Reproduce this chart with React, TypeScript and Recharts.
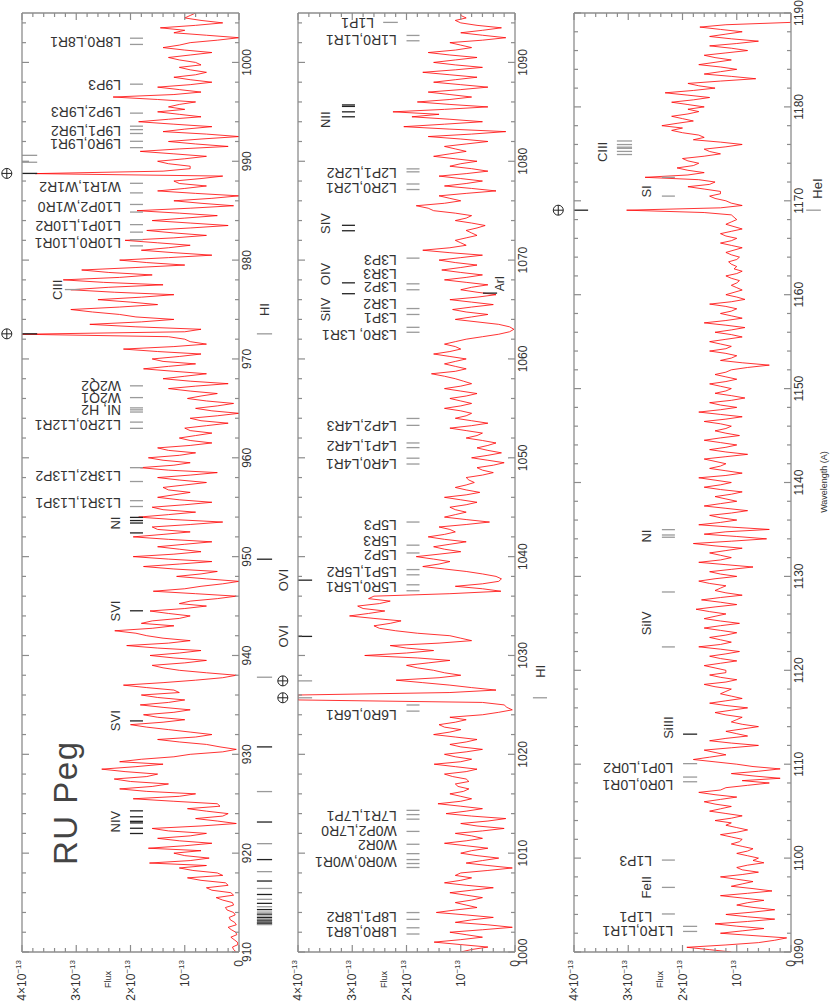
import React from "react";
import { LineChart, Line, XAxis, YAxis, ReferenceLine, ReferenceDot } from "recharts";

// FUSE spectrum of RU Peg, flux in units of 1e-13, sampled every 0.25 A
const STEP = 0.25;

const p1Start = 910;
const p1Flux = [
  0.05, 0.1, 0.12, 0.02, 0.03, 0.09, 0.15, 0.04, 0.06, 0.14, 0.2, 0.05, 0.08, 0.16, 0.18, 0.07, 0.1, 0.22, 0.25, 0.1,
  0.12, 0.3, 0.42, 0.1, 0.15, 0.5, 0.6, 0.2, 0.25, 0.7, 0.95, 0.3, 0.4, 0.85, 1.1, 0.6, 1.65, 0.9, 0.55, 1.0,
  1.2, 0.7, 1.67, 1.0, 0.5, 1.1, 1.5, 0.9, 0.6, 1.3, 1.6, 0.7, 0.05, 0.4, 0.8, 0.3, 0.2, 0.6, 0.95, 0.35,
  0.4, 1.2, 1.95, 1.1, 0.8, 1.7, 2.2, 1.6, 1.3, 2.0, 2.3, 1.7, 1.5, 2.1, 2.53, 1.9, 1.4, 2.2, 1.8, 1.2,
  0.9, 0.3, 0.05, 0.35, 0.6, 1.1, 1.5, 0.8, 0.5, 0.9, 1.3, 1.7, 2.0, 1.4, 1.0, 1.5, 1.76, 1.2, 0.9, 1.4,
  1.82, 1.3, 1.0, 1.5, 1.8, 1.1, 1.2, 1.7, 2.13, 1.4, 0.8, 0.3, 0.05, 0.6, 1.1, 1.4, 1.6, 1.0, 0.6, 1.2,
  1.64, 1.1, 0.7, 1.5, 2.07, 1.3, 0.9, 1.4, 1.7, 1.9, 2.29, 1.6, 1.2, 1.8, 1.6, 1.1, 0.9, 1.3, 1.64, 1.0,
  0.6, 1.1, 0.9, 0.4, 0.05, 0.8, 1.58, 1.0, 0.7, 0.3, 0.0, 0.6, 1.15, 0.7, 0.4, 1.2, 1.76, 1.1, 0.5, 1.3,
  1.95, 1.2, 0.7, 1.1, 1.5, 1.0, 0.5, 1.3, 1.95, 1.4, 0.9, 1.5, 1.6, 0.9, 0.3, 1.2, 1.85, 1.3, 0.8, 1.4,
  1.6, 1.0, 0.5, 1.1, 1.5, 1.2, 0.9, 1.3, 1.4, 1.0, 0.6, 1.1, 1.5, 0.9, 0.4, 1.3, 1.82, 1.2, 0.9, 1.4,
  1.67, 1.1, 0.8, 1.3, 1.5, 0.9, 0.5, 0.9, 1.1, 0.8, 0.5, 0.9, 1.0, 0.6, 0.2, 0.7, 0.9, 0.4, 0.0, 0.5,
  0.8, 0.4, 0.1, 0.6, 0.95, 0.7, 0.4, 0.9, 1.3, 0.8, 0.2, 0.9, 1.4, 1.0, 0.6, 1.2, 1.76, 1.3, 0.8, 1.4,
  1.6, 1.1, 0.7, 1.5, 2.13, 1.2, 0.6, 0.9, 1.0, 1.3, 4.0, 1.0, 0.7, 1.9, 2.75, 1.8, 1.2, 1.9, 2.2, 2.7,
  3.1, 2.2, 1.5, 2.0, 2.6, 1.8, 1.2, 2.3, 3.1, 2.4, 1.4, 2.5, 3.24, 2.2, 1.6, 2.4, 2.9, 1.9, 1.0, 1.7,
  2.2, 1.3, 0.5, 1.2, 1.8, 1.3, 0.9, 1.5, 2.1, 1.2, 0.6, 1.2, 1.7, 0.9, 0.2, 0.9, 1.6, 1.0, 0.4, 1.1,
  1.88, 0.9, 0.1, 0.7, 1.2, 0.5, 0.0, 0.8, 1.5, 1.0, 0.6, 1.1, 1.2, 0.7, 0.3, 3.76, 1.4, 0.9, 0.9, 1.3,
  1.5, 1.0, 0.6, 1.2, 1.82, 1.1, 0.2, 0.8, 1.3, 0.7, 0.0, 0.6, 1.4, 1.0, 0.5, 1.2, 1.85, 1.3, 0.7, 1.1,
  1.5, 1.0, 1.3, 1.1, 0.8, 1.5, 2.32, 1.2, 0.7, 1.1, 1.5, 0.9, 0.5, 0.9, 1.2, 0.8, 0.6, 0.9, 1.1, 0.7,
  0.8, 1.1, 1.3, 0.9, 0.5, 1.0, 1.4, 1.1, 0.9, 0.4, 0.0, 0.6, 1.2, 1.0, 1.45, 0.8, 0.3, 0.7, 1.0, 0.9, 0.8,
];

const p2Start = 1000;
const p2Flux = [
  1.0, 0.8, 0.5, 1.0, 1.49, 1.0, 0.6, 0.9, 1.2, 0.6, 0.05, 0.5, 1.1, 0.8, 0.4, 0.9, 1.45, 1.1, 0.7, 0.9,
  1.1, 0.8, 0.6, 0.9, 1.2, 0.8, 0.4, 0.9, 1.3, 1.0, 0.8, 1.1, 1.0, 0.5, 0.05, 0.5, 0.9, 0.6, 0.3, 0.7,
  1.0, 0.8, 0.5, 0.9, 1.3, 0.9, 0.6, 0.8, 1.1, 0.6, 0.2, 0.7, 1.0, 0.5, 0.17, 0.8, 1.27, 0.9, 0.6, 1.0,
  1.42, 1.0, 0.8, 1.0, 1.2, 0.95, 0.85, 1.05, 1.1, 0.85, 0.9, 1.15, 1.3, 0.9, 0.7, 1.1, 1.49, 1.0, 0.8, 1.1,
  1.3, 0.9, 0.6, 1.0, 1.2, 0.9, 0.7, 1.1, 1.5, 1.2, 1.0, 1.3, 1.4, 1.1, 0.9, 1.2, 0.6, 0.3, 0.05, 0.15,
  0.2, 0.6, 4.0, 4.0, 4.0, 1.2, 0.35, 0.8, 1.2, 1.7, 2.19, 1.4, 1.0, 1.3, 1.5, 1.8, 2.0, 1.6, 1.2, 1.8,
  2.77, 2.0, 1.5, 2.0, 2.3, 1.4, 0.8, 1.0, 1.2, 1.8, 2.2, 2.5, 2.6, 2.3, 2.1, 2.6, 3.05, 2.7, 2.4, 2.8,
  2.9, 2.5, 2.3, 2.7, 2.6, 1.2, 0.26, 0.6, 1.1, 0.6, 0.3, 0.25, 0.35, 0.6, 0.9, 1.3, 1.7, 1.4, 1.2, 1.5,
  1.82, 1.4, 1.0, 1.3, 1.5, 1.2, 0.9, 1.3, 1.6, 1.3, 1.1, 1.2, 1.4, 0.9, 0.47, 0.9, 1.3, 1.1, 0.9, 1.1,
  1.2, 0.9, 0.7, 1.0, 1.3, 0.9, 0.65, 0.9, 1.1, 0.9, 0.75, 0.85, 0.9, 0.6, 0.4, 0.6, 0.7, 0.4, 0.2, 0.5,
  0.8, 0.5, 0.25, 0.5, 0.7, 0.5, 0.35, 0.6, 0.9, 0.7, 0.6, 0.9, 1.2, 0.8, 0.5, 0.8, 1.1, 0.9, 0.8, 1.0,
  1.3, 1.0, 0.8, 1.0, 1.2, 0.9, 0.7, 1.0, 1.3, 1.0, 0.8, 0.95, 1.1, 1.3, 1.54, 1.1, 0.9, 1.1, 1.3, 1.1,
  0.9, 1.2, 1.5, 1.2, 1.0, 1.1, 1.3, 1.1, 0.9, 0.6, 0.3, 0.1, 0.02, 0.1, 0.3, 0.7, 1.1, 0.8, 0.5, 0.9,
  1.15, 0.8, 0.4, 0.8, 1.2, 0.7, 0.35, 0.7, 1.0, 0.8, 0.5, 0.9, 1.3, 0.9, 0.6, 1.0, 1.35, 1.0, 0.7, 1.1,
  1.4, 1.0, 0.6, 1.2, 1.7, 1.2, 0.9, 1.0, 1.1, 0.9, 0.7, 0.8, 0.9, 0.7, 0.55, 0.8, 1.1, 0.9, 0.8, 1.1,
  1.5, 1.6, 1.82, 1.3, 1.0, 1.2, 1.4, 0.9, 0.35, 0.8, 1.3, 0.9, 0.6, 1.0, 1.4, 0.9, 0.5, 0.8, 1.2, 1.0,
  0.7, 1.1, 1.5, 1.2, 0.9, 1.1, 1.3, 0.9, 0.5, 1.0, 1.6, 0.8, 0.17, 1.2, 2.05, 1.3, 0.6, 1.2, 1.9, 1.4,
  2.25, 1.3, 0.5, 1.2, 1.8, 1.2, 0.8, 1.2, 1.6, 1.0, 0.5, 1.0, 1.5, 1.1, 0.7, 1.2, 1.7, 1.1, 0.6, 1.1,
  1.5, 1.1, 0.7, 1.2, 1.6, 1.1, 0.8, 1.0, 1.2, 0.6, 0.17, 0.6, 1.0, 0.6, 0.25, 0.7, 1.0, 1.1, 0.9, 1.0, 1.0,
];

const p3Start = 1090;
const p3Flux = [
  1.1, 1.5, 1.92, 1.2, 0.6, 0.3, 0.08, 0.7, 1.3, 0.9, 0.5, 1.0, 1.4, 0.8, 0.3, 0.8, 1.2, 0.7, 0.3, 0.7,
  1.0, 0.8, 0.5, 0.9, 1.3, 0.8, 0.35, 0.7, 1.1, 0.9, 0.7, 1.0, 1.3, 0.9, 0.6, 0.9, 1.0, 0.8, 0.5, 0.7,
  0.6, 0.8, 1.0, 0.8, 0.7, 0.9, 1.1, 0.95, 0.9, 1.1, 1.3, 1.0, 0.8, 1.0, 1.2, 1.1, 1.4, 1.1, 0.9, 1.2,
  1.5, 1.3, 1.1, 1.4, 1.6, 1.3, 1.0, 1.4, 1.7, 1.3, 1.2, 0.8, 0.4, 0.9, 0.2, 0.7, 1.1, 0.6, 0.2, 0.7,
  1.0, 1.4, 1.8, 1.5, 1.2, 1.4, 1.6, 1.1, 0.6, 1.1, 1.5, 1.2, 0.8, 1.0, 1.2, 0.9, 0.6, 0.9, 1.1, 1.0,
  0.9, 1.2, 1.4, 1.1, 0.8, 1.2, 1.5, 1.2, 0.9, 1.1, 1.3, 1.2, 1.1, 1.4, 1.6, 1.2, 1.0, 1.3, 1.5, 1.2,
  1.2, 1.4, 1.6, 1.3, 1.0, 1.3, 1.5, 1.2, 0.95, 1.3, 1.7, 1.3, 1.1, 1.3, 1.5, 1.2, 1.0, 1.3, 1.6, 1.3,
  0.95, 1.3, 1.6, 1.4, 1.2, 1.5, 1.75, 1.4, 1.0, 1.3, 1.65, 1.3, 0.9, 1.2, 1.4, 1.3, 1.2, 1.5, 1.7, 1.4,
  1.0, 1.3, 1.5, 1.1, 0.7, 1.2, 1.7, 1.3, 1.1, 1.3, 1.5, 1.2, 0.9, 1.4, 1.8, 1.1, 0.45, 1.0, 1.6, 1.2,
  0.4, 1.1, 1.7, 1.3, 1.0, 1.3, 1.5, 1.1, 0.8, 1.2, 1.6, 1.3, 1.0, 1.2, 1.4, 1.1, 0.9, 1.3, 1.6, 1.3,
  1.1, 1.4, 1.7, 1.2, 0.9, 1.2, 1.5, 1.3, 1.2, 1.4, 1.6, 1.2, 0.8, 1.2, 1.5, 1.2, 1.0, 1.3, 1.6, 1.3,
  0.95, 1.2, 1.4, 1.2, 1.1, 1.3, 1.6, 1.2, 0.9, 1.3, 1.7, 1.3, 1.0, 1.3, 1.5, 1.1, 0.85, 1.1, 1.4, 1.2,
  1.1, 1.3, 1.5, 1.2, 1.0, 1.2, 1.4, 1.2, 1.1, 0.8, 0.4, 0.9, 1.3, 1.1, 1.0, 1.2, 1.5, 1.2, 1.1, 1.3,
  1.5, 1.2, 0.9, 1.1, 1.4, 1.1, 0.85, 1.2, 1.6, 1.2, 0.9, 1.1, 1.3, 1.1, 1.0, 1.2, 1.5, 1.1, 0.85, 1.0,
  1.2, 1.05, 0.9, 1.0, 1.1, 1.0, 0.95, 1.1, 1.2, 1.0, 0.9, 1.05, 1.0, 1.1, 1.15, 1.0, 0.95, 1.1, 1.2, 1.05,
  0.9, 1.1, 1.3, 1.1, 1.0, 1.2, 1.3, 1.1, 0.9, 1.05, 1.2, 1.1, 1.0, 1.05, 1.1, 1.6, 3.03, 1.3, 0.9, 1.1,
  1.2, 1.4, 1.5, 1.3, 1.3, 1.6, 1.9, 1.5, 1.4, 1.7, 2.69, 1.9, 1.6, 1.9, 2.1, 1.8, 1.7, 1.9, 2.0, 1.6,
  1.3, 1.5, 1.6, 1.2, 0.9, 1.3, 1.8, 1.6, 1.7, 2.0, 2.2, 2.0, 2.38, 2.1, 1.8, 2.0, 2.2, 1.9, 1.7, 1.9,
  1.6, 1.9, 2.2, 1.8, 1.5, 1.9, 2.32, 1.8, 1.4, 1.7, 1.9, 1.3, 0.65, 1.1, 1.6, 1.3, 1.0, 1.3, 1.7, 1.4,
  1.1, 1.4, 1.6, 1.2, 0.8, 1.1, 1.5, 1.0, 0.6, 1.1, 1.5, 1.2, 0.9, 1.3, 1.68, 1.2, 0.0, 0.0, 0.0, 0.0, 0.0,
];

// line identifications: [label, label wavelength, tick wavelengths]
type Mark = [string, number, number[]];

const p1H2: Mark[] = [
  ["L8R0,L8R1", 1002.1, [1001.82, 1002.45]],
  ["L9P3", 997.7, [997.8]],
  ["L9P2,L9R3", 995.0, [994.87]],
  ["L9P1,L9R2", 993.1, [992.81, 993.2, 993.55]],
  ["L9R0,L9R1", 991.7, [991.38, 992.02]],
  ["W1R1,W1R2", 987.4, [986.8, 987.77]],
  ["L10P2,W1R0", 985.4, [984.86, 985.63]],
  ["L10P1,L10R2", 983.5, [982.83, 983.59]],
  ["L10R0,L10R1", 981.7, [981.44, 982.07]],
  ["W2Q2", 967.3, [967.28]],
  ["W2Q1", 966.1, [966.09]],
  ["NI, H2", 964.85, [964.63, 964.85, 965.05]],
  ["L12R0,L12R1", 963.3, [962.98, 963.61]],
  ["L13R2,L13P2", 958.2, [957.6, 959.0]],
  ["L13R1,L13P1", 955.4, [955.07, 955.66]],
];
const p1Ions: Mark[] = [
  ["NIV", 923.2, [921.99, 922.52, 923.06, 923.22, 923.68, 924.28]],
  ["SVI", 933.4, [933.38]],
  ["SVI", 944.5, [944.52]],
  ["NI", 953.4, [952.4, 953.4, 953.65, 953.97]],
];
const p1High: Mark[] = [["CIII", 977.0, [977.02]]];
const p1Airglow = [972.54, 988.77];
const p1AirGray = [989.9, 990.6];
const lyman = [
  972.54, 949.74, 937.8, 930.75, 926.23, 923.15, 920.96, 919.35, 918.13, 917.18,
  916.43, 915.82, 915.33, 914.92, 914.58, 914.29, 914.04, 913.83, 913.64, 913.48,
  913.34, 913.21, 913.1, 913.0, 912.92, 912.84, 912.77,
];

const p2H2: Mark[] = [
  ["L8R0,L8R1", 1002.0, [1001.82, 1002.45]],
  ["L8P1,L8R2", 1003.5, [1003.3, 1003.99]],
  ["W0R0,W0R1", 1009.1, [1008.55, 1008.95, 1009.35, 1009.95]],
  ["W0R2", 1010.8, [1010.9]],
  ["W0P2,L7R0", 1012.2, [1012.2]],
  ["L7R1,L7P1", 1013.8, [1013.44, 1013.9, 1014.33]],
  ["L6R0,L6R1", 1024.0, [1024.37, 1024.99]],
  ["L5R0,L5R1", 1036.9, [1036.55, 1037.15]],
  ["L5P1,L5R2", 1038.4, [1038.16, 1038.69]],
  ["L5P2", 1040.2, [1040.37]],
  ["L5R3", 1041.6, [1041.16]],
  ["L5P3", 1043.2, [1043.5]],
  ["L4R0,L4R1", 1049.4, [1049.37, 1049.96]],
  ["L4P1,L4R2", 1051.2, [1051.03, 1051.5]],
  ["L4P2,L4R3", 1053.2, [1053.28, 1053.98]],
  ["L3R0, L3R1", 1062.4, [1062.7, 1063.2]],
  ["L3P1", 1064.1, [1064.5]],
  ["L3R2", 1065.6, [1065.1]],
  ["L3P2", 1067.3, [1067.0]],
  ["L3R3", 1068.6, [1067.6]],
  ["L3P3", 1070.0, [1070.2]],
  ["L2R0,L2R1", 1077.3, [1077.14, 1077.7]],
  ["L2P1,L2R2", 1078.8, [1078.93, 1079.23]],
  ["L1R0,L1R1", 1092.3, [1092.19, 1092.73]],
];
const p2Mid: Mark[] = [["L1P1", 1094.0, [1094.05]]];
const p2Ions: Mark[] = [
  ["SiIV", 1065.0, [1066.6]],
  ["OIV", 1068.6, [1067.7]],
  ["SIV", 1073.7, [1072.97, 1073.52]],
  ["NII", 1084.2, [1084.5, 1085.0, 1085.55, 1085.7]],
];
const p2Airglow = [1025.72, 1027.43];
const p2Ovi = [1031.93, 1037.62];
const p2ArI = 1066.66;
const p2Lyb = 1025.72;

const p3Low: Mark[] = [
  ["L1R0,L1R1", 1092.2, [1092.19, 1092.73]],
  ["L0R0,L0R1", 1107.8, [1108.13, 1108.63]],
  ["L0P1,L0R2", 1109.6, [1110.06]],
];
const p3Mid: Mark[] = [
  ["L1P1", 1093.7, [1094.05]],
  ["L1P3", 1099.7, [1099.79]],
];
const p3Ions: Mark[] = [
  ["FeII", 1096.9, [1096.88]],
  ["SiIV", 1125.0, [1122.49, 1128.34]],
  ["NI", 1134.3, [1134.17, 1134.41, 1134.98]],
  ["SI", 1171.0, [1170.5, 1172.5]],
];
const p3SiIII: Mark[] = [["SiIII", 1113.9, [1113.2]]];
const p3High: Mark[] = [["CIII", 1175.2, [1174.93, 1175.26, 1175.59, 1175.71, 1175.99, 1176.37]]];
const p3Airglow = [1169.0];
const p3HeI = 1169.0;

const yTicks = [0, 0.2, 0.4, 0.6, 0.8, 1, 1.2, 1.4, 1.6, 1.8, 2, 2.2, 2.4, 2.6, 2.8, 3, 3.2, 3.4, 3.6, 3.8, 4];

const FONT = "'Liberation Sans', Arial, sans-serif";
const INK = "#333";
const FRAME = "#8c8c8c";
const GRAY = "#9a9a9a";
const DARK = "#222";
const RED = "#ff0000";

const everyTwo = (a: number, b: number) =>
  Array.from({ length: Math.floor((b - a) / 2) + 1 }, (_, i) => a + 2 * i);

const isMajorY = (v: number) => Math.abs(v - Math.round(v)) < 1e-6;

const BottomTick = (p: any) => {
  const { x, y, payload } = p;
  const major = payload.value % 10 === 0;
  return (
    <g>
      <line x1={x} y1={y} x2={x} y2={y - (major ? 7 : 4)} stroke={FRAME} strokeWidth={1.2} />
      {major && (
        <text x={x} y={y + 12} textAnchor="middle" fontSize={12} fill={INK} fontFamily={FONT}>
          {payload.value}
        </text>
      )}
    </g>
  );
};

const TopTick = (p: any) => {
  const { x, y, payload } = p;
  const major = payload.value % 10 === 0;
  return <line x1={x} y1={y} x2={x} y2={y + (major ? 7 : 4)} stroke={FRAME} strokeWidth={1.2} />;
};

const LeftTick = (p: any) => {
  const { x, y, payload } = p;
  const v = Math.round(payload.value * 10) / 10;
  const major = isMajorY(v);
  return (
    <g>
      <line x1={x} y1={y} x2={x + (major ? 7 : 4)} y2={y} stroke={FRAME} strokeWidth={1.2} />
      {major && (
        <text x={x - 8} y={y + 4} textAnchor="end" fontSize={12} fill={INK} fontFamily={FONT}>
          {v === 0 ? "0" : (
            <>
              {v === 1 ? "" : `${v}×`}10
              <tspan dy={-5} fontSize={8}>−13</tspan>
            </>
          )}
        </text>
      )}
    </g>
  );
};

const RightTick = (p: any) => {
  const { x, y, payload } = p;
  const major = isMajorY(payload.value);
  return <line x1={x} y1={y} x2={x - (major ? 7 : 4)} y2={y} stroke={FRAME} strokeWidth={1.2} />;
};

const ticksAt = (key: string, ws: number[], lo: number, hi: number, color: string) =>
  ws.map((w, i) => (
    <ReferenceLine
      key={`${key}-${i}`}
      segment={[{ x: w, y: lo }, { x: w, y: hi }]}
      stroke={color}
      strokeWidth={1.3}
      ifOverflow="visible"
    />
  ));

const vText = (key: string, text: string, w: number, y: number) => (
  <ReferenceDot
    key={key}
    x={w}
    y={y}
    ifOverflow="visible"
    shape={(p: any) => (
      <text
        x={p.cx}
        y={p.cy}
        transform={`rotate(-90 ${p.cx} ${p.cy})`}
        dominantBaseline="central"
        fontSize={14}
        fill={INK}
        fontFamily={FONT}
      >
        {text}
      </text>
    )}
  />
);

const hText = (key: string, text: string, w: number, y: number, size = 13, anchor = "middle") => (
  <ReferenceDot
    key={key}
    x={w}
    y={y}
    ifOverflow="visible"
    shape={(p: any) => (
      <text x={p.cx} y={p.cy} textAnchor={anchor} fontSize={size} fill={INK} fontFamily={FONT}>
        {text}
      </text>
    )}
  />
);

const earth = (key: string, w: number, y: number) => (
  <ReferenceDot
    key={key}
    x={w}
    y={y}
    ifOverflow="visible"
    shape={(p: any) => (
      <g stroke={DARK} strokeWidth={1} fill="none">
        <circle cx={p.cx} cy={p.cy} r={5} />
        <line x1={p.cx - 5} y1={p.cy} x2={p.cx + 5} y2={p.cy} />
        <line x1={p.cx} y1={p.cy - 5} x2={p.cx} y2={p.cy + 5} />
      </g>
    )}
  />
);

const marks = (key: string, list: Mark[], lo: number, hi: number, labelY: number, vertical: boolean, color: string) =>
  list.flatMap(([t, at, ws], i) => [
    ...ticksAt(`${key}t${i}`, ws, lo, hi, color),
    vertical ? vText(`${key}l${i}`, t, at, labelY) : hText(`${key}l${i}`, t, at, labelY),
  ]);

function Panel({ top, start, flux, x0, x1, children }: any) {
  const rows = flux.map((f: number, i: number) => ({ w: start + i * STEP, f }));
  const xt = everyTwo(x0, x1);
  const axisLine = { stroke: FRAME, strokeWidth: 1.3 };
  return (
    <div style={{ position: "absolute", left: 0, top: top - 22 }}>
      <LineChart width={1001} height={279} data={rows} margin={{ top: 0, right: 0, bottom: 0, left: 0 }}>
        <XAxis dataKey="w" type="number" domain={[x0, x1]} ticks={xt} interval={0} allowDataOverflow
          height={40} tickSize={0} tickMargin={0} tickLine={false} axisLine={axisLine} tick={BottomTick} />
        <XAxis xAxisId="t" orientation="top" dataKey="w" type="number" domain={[x0, x1]} ticks={xt} interval={0}
          allowDataOverflow height={22} tickSize={0} tickMargin={0} tickLine={false} axisLine={axisLine} tick={TopTick} />
        <YAxis type="number" domain={[0, 4]} ticks={yTicks} interval={0} allowDataOverflow width={49}
          tickSize={0} tickMargin={0} tickLine={false} axisLine={axisLine} tick={LeftTick} />
        <YAxis yAxisId="r" orientation="right" type="number" domain={[0, 4]} ticks={yTicks} interval={0}
          allowDataOverflow width={13} tickSize={0} tickMargin={0} tickLine={false} axisLine={axisLine} tick={RightTick} />
        <Line dataKey="f" type="linear" stroke={RED} strokeWidth={0.8} dot={false} isAnimationActive={false} />
        {children}
      </LineChart>
    </div>
  );
}

export default function App() {
  return (
    <div style={{ position: "fixed", left: 0, top: 0, width: 830, height: 1001, overflow: "hidden", background: "#fff" }}>
      <div
        style={{
          position: "absolute",
          left: 0,
          top: 0,
          width: 1001,
          height: 830,
          transformOrigin: "0 0",
          transform: "translate(0px, 1001px) rotate(-90deg)",
          fontFamily: FONT,
        }}
      >
        <Panel top={22} start={p1Start} flux={p1Flux} x0={910} x1={1005}>
          {[
            ...marks("a", p1H2, 1.77, 2.01, 2.175, true, GRAY),
            ...marks("b", p1Ions, 1.77, 2.01, 2.19, false, DARK),
            ...marks("c", p1High, 2.93, 3.21, 3.26, false, GRAY),
            ...ticksAt("ag", p1Airglow, 3.72, 4.0, DARK),
            ...ticksAt("ak", p1AirGray, 3.72, 4.0, GRAY),
            ...p1Airglow.map((w, i) => earth(`e${i}`, w, 4.28)),
            ...lyman.flatMap((w, i) => ticksAt(`ly${i}`, [w], -0.61, -0.33, i % 2 ? DARK : GRAY)),
            hText("hi1", "HI", 975.0, -0.55),
          ]}
        </Panel>
        <Panel top={298} start={p2Start} flux={p2Flux} x0={1000} x1={1095}>
          {[
            ...marks("a", p2H2, 1.76, 2.0, 2.18, true, GRAY),
            ...marks("m", p2Mid, 2.16, 2.43, 2.6, true, GRAY),
            ...marks("b", p2Ions, 2.95, 3.19, 3.41, false, DARK),
            ...ticksAt("ag", p2Airglow, 3.74, 4.0, GRAY),
            ...p2Airglow.map((w, i) => earth(`e${i}`, w, 4.28)),
            ...ticksAt("ov", p2Ovi, 3.74, 4.0, DARK),
            ...p2Ovi.map((w, i) => hText(`ovl${i}`, "OVI", w, 4.18)),
            ...ticksAt("ar", [p2ArI], 0.33, 0.59, DARK),
            hText("arl", "ArI", p2ArI + 0.2, 0.2, 12, "start"),
            ...ticksAt("lyb", [p2Lyb], -0.59, -0.33, GRAY),
            hText("hi2", "HI", 1028.4, -0.55),
          ]}
        </Panel>
        <Panel top={574} start={p3Start} flux={p3Flux} x0={1090} x1={1190}>
          {[
            ...marks("a", p3Low, 1.73, 1.99, 2.17, true, GRAY),
            ...marks("m", p3Mid, 2.14, 2.38, 2.56, true, GRAY),
            ...marks("b", p3Ions, 2.14, 2.38, 2.58, false, GRAY),
            ...marks("s", p3SiIII, 1.73, 1.99, 2.17, false, DARK),
            ...marks("c", p3High, 2.93, 3.21, 3.39, false, GRAY),
            ...ticksAt("ag", p3Airglow, 3.74, 4.0, DARK),
            ...p3Airglow.map((w, i) => earth(`e${i}`, w, 4.29)),
            ...ticksAt("he", [p3HeI], -0.55, -0.28, GRAY),
            hText("hel", "HeI", 1171.3, -0.57),
          ]}
        </Panel>
        <svg width={1001} height={830} style={{ position: "absolute", left: 0, top: 0, pointerEvents: "none" }}>
          <text x={136} y={77} fontSize={33} textLength={123} lengthAdjust="spacing" fill="#444" fontFamily={FONT}>
            RU Peg
          </text>
          {[22, 298, 574].map((t) => (
            <text key={t} x={13} y={t + 89} fontSize={9} fill={INK} fontFamily={FONT}>
              Flux
            </text>
          ))}
          <text x={519} y={827} textAnchor="middle" fontSize={9} fill={INK} fontFamily={FONT}>
            Wavelength (A)
          </text>
        </svg>
      </div>
    </div>
  );
}
